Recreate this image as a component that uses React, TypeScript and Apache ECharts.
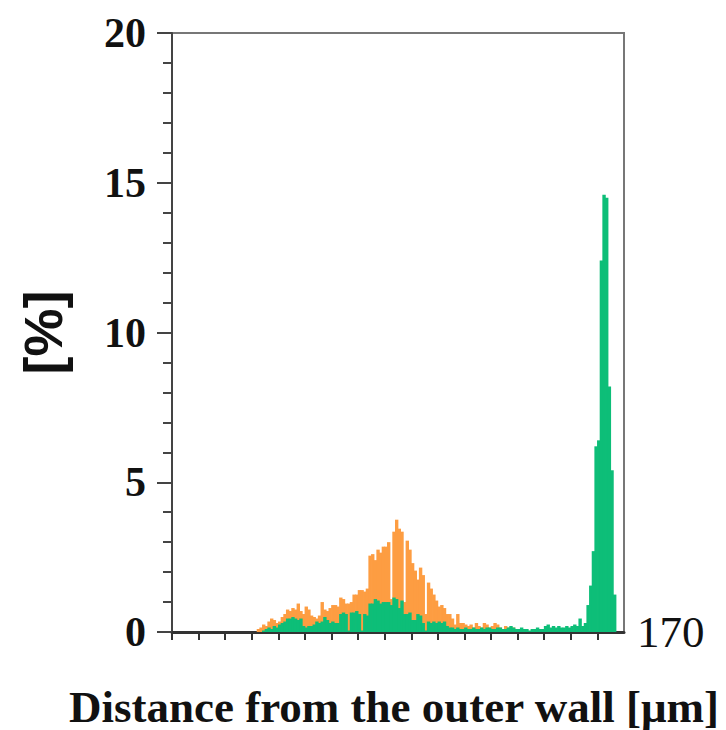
import React, { useEffect, useRef } from 'react';
import * as echarts from 'echarts';

// Histogram, 1 µm bins from 0 to 170 µm, values in %
const orange: number[] = [
  0, 0, 0, 0, 0, 0, 0, 0, 0, 0,
  0, 0, 0, 0, 0, 0, 0, 0, 0, 0,
  0, 0, 0, 0, 0, 0, 0, 0, 0, 0,
  0, 0, 0.1, 0.15, 0.25, 0.2, 0.35, 0.45, 0.4, 0.3,
  0.35, 0.5, 0.6, 0.75, 0.7, 0.8, 0.75, 0.95, 0.7, 0.6,
  0.85, 0.75, 0.55, 0.5, 0.45, 0.55, 1.0, 0.75, 0.7, 0.8,
  0.9, 0.9, 0.85, 1.15, 1.1, 0.95, 0.95, 1.0, 1.25, 1.25,
  1.4, 1.4, 1.35, 1.45, 2.55, 2.6, 2.4, 2.75, 2.65, 2.85,
  2.85, 3.0, 1.1, 3.35, 3.75, 3.45, 3.35, 1.0, 3.05, 2.75,
  2.3, 2.05, 1.75, 2.15, 1.9, 0.6, 1.65, 1.45, 1.25, 1.05,
  0.85, 0.9, 0.8, 0.6, 0.6, 0.45, 0.25, 0.6, 0.3, 0.3,
  0.25, 0.2, 0.25, 0.15, 0.3, 0.2, 0.15, 0.3, 0.25, 0.15,
  0.2, 0.3, 0.25, 0.15, 0.1, 0.2, 0.15, 0.1, 0.15, 0.1,
  0.05, 0, 0, 0, 0, 0, 0, 0, 0, 0,
  0, 0, 0, 0, 0, 0, 0, 0, 0, 0,
  0, 0, 0, 0, 0, 0, 0, 0, 0, 0,
  0, 0, 0, 0, 0, 0, 0, 0, 0, 0,
];

const green: number[] = [
  0, 0, 0, 0, 0, 0, 0, 0, 0, 0,
  0, 0, 0, 0, 0, 0, 0, 0, 0, 0,
  0, 0, 0, 0, 0, 0, 0, 0, 0, 0,
  0, 0, 0, 0, 0.05, 0.1, 0.15, 0.1, 0.2, 0.15,
  0.25, 0.3, 0.35, 0.45, 0.45, 0.5, 0.45, 0.4, 0.45, 0.2,
  0.15, 0.2, 0.2, 0.25, 0.35, 0.3, 0.35, 0.5, 0.4, 0.3,
  0.35, 0.3, 0.3, 0.6, 0.65, 0.6, 0.05, 0.65, 0.65, 0.7,
  0.6, 0.05, 0.6, 0.55, 0.95, 0.95, 1.1, 1.05, 0.95, 1.0,
  1.0, 1.0, 0.9, 1.15, 1.1, 0.8, 1.05, 0.6, 0.6, 0.65,
  0.4, 0.4, 0.6, 0.55, 0.3, 0.05, 0.35, 0.3, 0.35, 0.3,
  0.35, 0.3, 0.35, 0.2, 0.15, 0.15, 0.1, 0.15, 0.1, 0.1,
  0.15, 0.1, 0.1, 0.15, 0.1, 0.1, 0.15, 0.1, 0.15, 0.15,
  0.1, 0.1, 0.15, 0.15, 0.1, 0.1, 0.15, 0.2, 0.15, 0.1,
  0.1, 0.15, 0.1, 0.1, 0.05, 0.1, 0.1, 0.15, 0.1, 0.1,
  0.2, 0.25, 0.15, 0.2, 0.15, 0.2, 0.15, 0.15, 0.2, 0.15,
  0.2, 0.25, 0.2, 0.45, 0.2, 0.3, 0.9, 1.55, 2.7, 6.2,
  6.4, 12.4, 14.6, 14.5, 8.2, 5.4, 1.25, 0, 0, 0,
];

const xTicks: number[] = [0, 10, 20, 30, 40, 50, 60, 70, 80, 90, 100, 110, 120, 130, 140, 150, 160];
const xMax = 170;
const yMax = 20;
const yInterval = 5;
const xEndLabel = '170';
const xTitle = 'Distance from the outer wall [μm]';
const yTitle = '[%]';

const SERIF = '"Liberation Serif", "Times New Roman", serif';
const SANS = '"Liberation Sans", Arial, sans-serif';

export default function App() {
  const ref = useRef<HTMLDivElement>(null);
  useEffect(() => {
    document.body.style.margin = '0';
    if (!ref.current) return;
    const chart = echarts.init(ref.current, null, { renderer: 'svg' });
    const toPairs = (arr: number[]) => arr.map((v, i) => [i + 0.5, v]);
    chart.setOption({
      animation: false,
      backgroundColor: '#ffffff',
      title: {
        text: xTitle,
        left: 64,
        top: 679,
        textStyle: { fontFamily: SERIF, fontSize: 45, fontWeight: 'bold', color: '#111' },
      },
      grid: {
        left: 172,
        right: 102,
        top: 33,
        bottom: 98,
        show: true,
        borderColor: '#777',
        borderWidth: 2,
        backgroundColor: 'transparent',
      },
      xAxis: {
        type: 'value',
        min: 0,
        max: xMax,
        interval: 10,
        name: xEndLabel,
        nameLocation: 'end',
        nameGap: 13,
        nameTextStyle: { fontFamily: SERIF, fontSize: 45, color: '#111', verticalAlign: 'middle' },
        axisLine: { show: true, lineStyle: { color: '#333', width: 3 } },
        axisTick: { show: true, length: 8, lineStyle: { color: '#333', width: 2 }, customValues: xTicks },
        axisLabel: { show: false },
        splitLine: { show: false },
      },
      yAxis: {
        type: 'value',
        min: 0,
        max: yMax,
        interval: yInterval,
        name: yTitle,
        nameLocation: 'middle',
        nameRotate: 90,
        nameGap: 102,
        nameTextStyle: { fontFamily: SANS, fontSize: 54, fontWeight: 'bold', color: '#111' },
        axisLine: { show: true, lineStyle: { color: '#444', width: 2 } },
        axisTick: { show: true, length: 15, lineStyle: { color: '#444', width: 2 } },
        minorTick: { show: true, splitNumber: 5, length: 9, lineStyle: { color: '#444', width: 2 } },
        axisLabel: { fontFamily: SERIF, fontSize: 42, fontWeight: 'bold', color: '#111', margin: 26 },
        splitLine: { show: false },
      },
      series: [
        {
          type: 'bar',
          data: toPairs(orange),
          barWidth: 3.4,
          barGap: '-100%',
          itemStyle: { color: '#FD9D42' },
          silent: true,
        },
        {
          type: 'bar',
          data: toPairs(green),
          barWidth: 3.4,
          barGap: '-100%',
          itemStyle: { color: '#0DBE78' },
          silent: true,
        },
      ],
    });
    return () => chart.dispose();
  }, []);
  return <div ref={ref} style={{ width: 726, height: 730 }} />;
}
